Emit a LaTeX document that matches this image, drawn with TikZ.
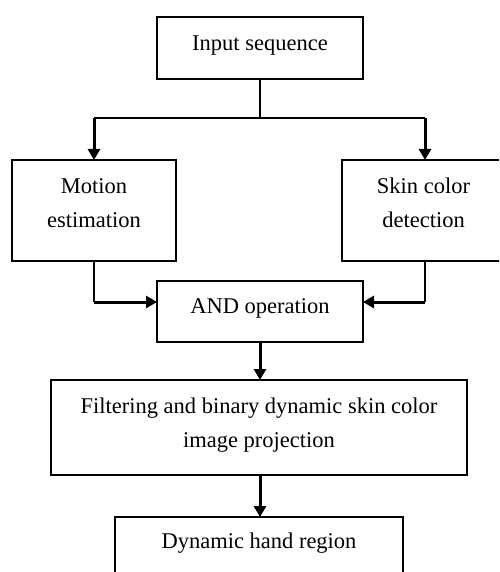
\documentclass[tikz,border=0pt]{standalone}
\usepackage{fontspec}
\setmainfont{Liberation Serif}
\usetikzlibrary{arrows.meta}

\begin{document}
\begin{tikzpicture}[x=1pt, y=-1pt,
  box/.style={draw, rectangle, line width=1.3pt, inner sep=0pt, outer sep=0pt,
    align=center, text depth=10pt, font=\fontsize{22.5}{34}\selectfont},
  thinline/.style={line width=1.5pt},
  arr/.style={line width=3pt, -{Triangle[length=11pt,width=12pt]}}]
  \useasboundingbox (0,0) rectangle (499,572);
  \clip (0,0) rectangle (499,572);

  % processing steps
  \node[box, minimum width=206pt, minimum height=62pt]  (in)   at (260,48)    {Input sequence};
  \node[box, text depth=15pt, minimum width=164pt, minimum height=101pt] (mot)  at (94,210.5)  {Motion\\estimation};
  \node[box, text depth=15pt, minimum width=163pt, minimum height=101pt] (skin) at (423.5,210.5) {Skin color\\detection};
  \node[box, minimum width=206pt, minimum height=61pt]  (and)  at (260,311.5) {AND operation};
  \node[box, minimum width=416pt, minimum height=95pt]  (filt) at (259,427.5) {Filtering and binary dynamic skin color\\image projection};
  \node[box, minimum width=288pt, minimum height=58pt]  (dyn)  at (259,546)   {Dynamic hand region};

  % branch points
  \coordinate (split) at (260,118);
  \coordinate (jl) at (94,118);
  \coordinate (jr) at (425,118);
  \coordinate (ml) at (94,302);
  \coordinate (mr) at (425,302);

  % input splits to both detectors
  \draw[thinline] (in.south) -- (split);
  \draw[thinline] (jl) -- (jr);
  \draw[arr] (jl) -- (jl |- mot.north);
  \draw[arr] (jr) -- (jr |- skin.north);

  % detectors merge into the AND step
  \draw[thinline] (mot.south) -- (ml);
  \draw[arr] (ml) -- (ml -| and.west);
  \draw[thinline] (jr |- skin.south) -- (mr);
  \draw[arr] (mr) -- (mr -| and.east);

  % main chain downwards
  \draw[arr] (and.south) -- (and.south |- filt.north);
  \draw[arr] (and.south |- filt.south) -- (and.south |- dyn.north);
\end{tikzpicture}
\end{document}
